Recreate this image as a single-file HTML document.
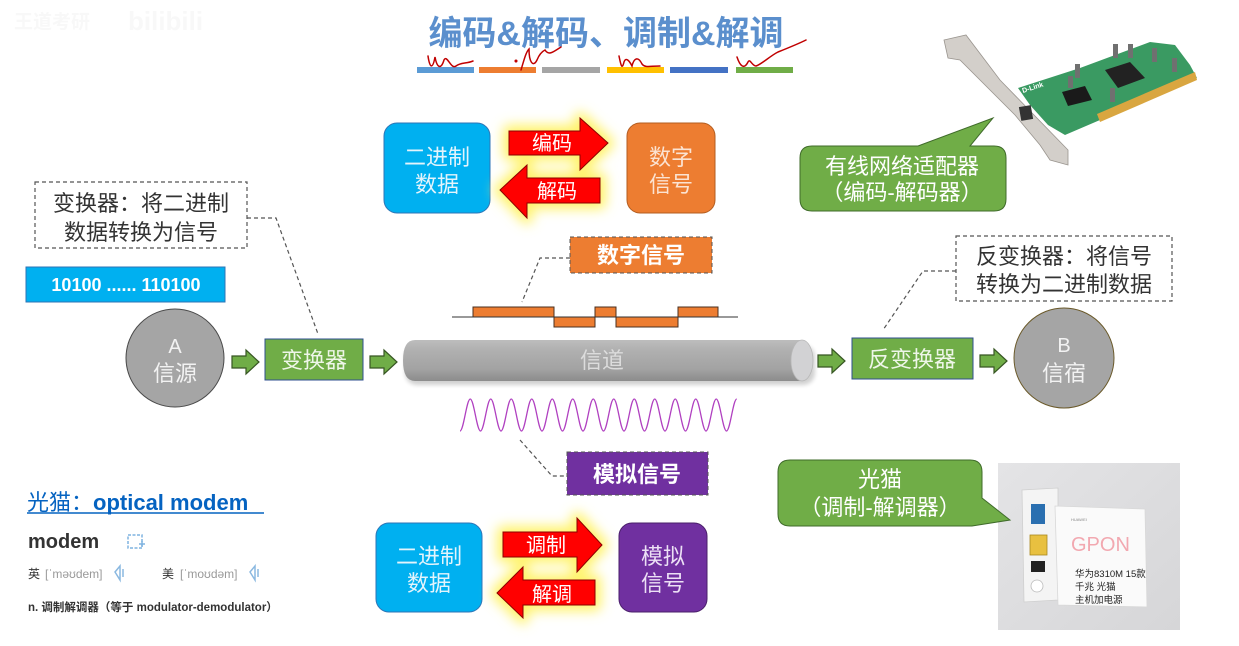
<!DOCTYPE html>
<html><head><meta charset="utf-8">
<style>
html,body{margin:0;padding:0;background:#fff;}
body{width:1239px;height:646px;overflow:hidden;position:relative;}
svg{position:absolute;left:0;top:0;}
text{font-family:"Liberation Sans","Noto Sans CJK SC",sans-serif;}
</style></head>
<body>
<svg width="1239" height="646" viewBox="0 0 1239 646" xmlns="http://www.w3.org/2000/svg">
<defs>
  <filter id="glow" x="-30%" y="-30%" width="160%" height="160%"><feGaussianBlur stdDeviation="6"/></filter>
  <filter id="sh" x="-10%" y="-10%" width="130%" height="140%"><feGaussianBlur stdDeviation="2"/></filter>
  <linearGradient id="cyl" x1="0" y1="0" x2="0" y2="1">
    <stop offset="0" stop-color="#bdbdbd"/>
    <stop offset="0.25" stop-color="#b0b0b0"/>
    <stop offset="0.7" stop-color="#a3a3a3"/>
    <stop offset="1" stop-color="#8c8c8c"/>
  </linearGradient>
  <linearGradient id="photo" x1="0" y1="0" x2="1" y2="1">
    <stop offset="0" stop-color="#e4e4e6"/>
    <stop offset="1" stop-color="#d6d6d8"/>
  </linearGradient>
</defs>

<!-- watermark -->
<text x="14" y="28" font-size="19" fill="#f8f8f8" font-weight="bold">王道考研</text>
<text x="128" y="30" font-size="26" fill="#f8f8f8" font-weight="bold">bilibili</text>

<!-- title -->
<text x="606" y="45" font-size="34" font-weight="bold" fill="#5b8fcd" text-anchor="middle">编码&amp;解码、调制&amp;解调</text>
<rect x="417" y="67" width="57" height="6" fill="#5b9bd5"/>
<rect x="479" y="67" width="57" height="6" fill="#ed7d31"/>
<rect x="542" y="67" width="58" height="6" fill="#a5a5a5"/>
<rect x="607" y="67" width="57" height="6" fill="#ffc000"/>
<rect x="670" y="67" width="58" height="6" fill="#4472c4"/>
<rect x="736" y="67" width="57" height="6" fill="#70ad47"/>
<!-- squiggles -->
<g fill="none" stroke="#c00000" stroke-width="1.5" stroke-linecap="round">
  <path d="M428,56 C430,70 433,68 435,57 C437,68 441,70 444,60 C447,54 451,70 456,66 C461,62 466,64 473,61"/>
  <circle cx="516" cy="61" r="0.8" fill="#c00000"/>
  <path d="M521,70 C524,60 526,52 529,49 C529,62 533,68 537,60 C539,55 541,52 545,50 C549,56 553,52 561,47"/>
  <path d="M619,56 C621,66 622,70 624,62 C626,56 630,62 632,66 C634,58 638,56 642,64 C645,68 650,66 660,66"/>
  <path d="M737,57 C740,66 744,70 748,62 C750,58 752,66 756,66 C762,64 770,56 778,52 C788,48 798,44 806,40"/>
</g>

<!-- top diagram -->
<rect x="384" y="123" width="106" height="90" rx="13" fill="#00b0f0" stroke="#2e75b6" stroke-width="1"/>
<text x="437" y="165" font-size="22" fill="#e3f4fc" text-anchor="middle">二进制</text>
<text x="437" y="192" font-size="22" fill="#e3f4fc" text-anchor="middle">数据</text>
<rect x="627" y="123" width="88" height="90" rx="13" fill="#ed7d31" stroke="#b35d20" stroke-width="1"/>
<text x="671" y="165" font-size="22" fill="#fbe3d2" text-anchor="middle">数字</text>
<text x="671" y="192" font-size="22" fill="#fbe3d2" text-anchor="middle">信号</text>
<g filter="url(#glow)" fill="#fff36a" stroke="#fff36a" stroke-width="12" stroke-linejoin="round">
  <polygon points="509,131 580,131 580,118 608,143 580,170 580,155 509,155"/>
  <polygon points="600,178 527,178 527,165 500,190 527,218 527,203 600,203"/>
</g>
<polygon points="509,131 580,131 580,118 608,143 580,170 580,155 509,155" fill="#ff0000" stroke="#8b0000" stroke-width="1"/>
<polygon points="600,178 527,178 527,165 500,190 527,218 527,203 600,203" fill="#ff0000" stroke="#8b0000" stroke-width="1"/>
<text x="552" y="150" font-size="20" fill="#fff" text-anchor="middle">编码</text>
<text x="557" y="198" font-size="20" fill="#fff" text-anchor="middle">解码</text>

<!-- left dashed note -->
<rect x="35" y="182" width="212" height="66" fill="none" stroke="#555" stroke-width="1.2" stroke-dasharray="4,3"/>
<text x="141" y="211" font-size="22" fill="#333" text-anchor="middle">变换器：将二进制</text>
<text x="141" y="240" font-size="22" fill="#333" text-anchor="middle">数据转换为信号</text>
<polyline points="247,218 276,218 318,334" fill="none" stroke="#555" stroke-width="1.2" stroke-dasharray="4,3"/>

<!-- binary bar -->
<rect x="26" y="267" width="199" height="35" fill="#00b0f0" stroke="#2e75b6" stroke-width="1"/>
<text x="126" y="291" font-size="18" font-weight="bold" fill="#fff" text-anchor="middle">10100 ...... 110100</text>

<!-- source circle -->
<circle cx="175" cy="358" r="49" fill="#a5a5a5" stroke="#4a4a4a" stroke-width="1"/>
<text x="175" y="353" font-size="20" fill="#f2f2f2" text-anchor="middle">A</text>
<text x="175" y="381" font-size="22" fill="#f2f2f2" text-anchor="middle">信源</text>

<!-- green arrows -->
<g fill="#70ad47" stroke="#375623" stroke-width="1.2" stroke-linejoin="miter">
  <polygon points="232,356 246,356 246,350 259,362 246,374 246,368 232,368"/>
  <polygon points="370,356 384,356 384,350 397,362 384,374 384,368 370,368"/>
  <polygon points="818,355 832,355 832,349 845,361 832,373 832,367 818,367"/>
  <polygon points="980,355 994,355 994,349 1007,361 994,373 994,367 980,367"/>
</g>

<rect x="265" y="339" width="98" height="41" fill="#70ad47" stroke="#2f4f8f" stroke-width="1"/>
<text x="314" y="368" font-size="22" fill="#eef6e8" text-anchor="middle">变换器</text>

<!-- channel cylinder -->
<rect x="405" y="345" width="410" height="40" rx="12" fill="#000" opacity="0.18" filter="url(#sh)"/>
<path d="M415,340 H802 V381 H415 Q403,381 403,360.5 Q403,340 415,340 Z" fill="url(#cyl)"/>
<ellipse cx="802" cy="360.5" rx="11" ry="20.5" fill="#d2d2d4" stroke="#b8b8b8" stroke-width="0.8"/>
<text x="602" y="368" font-size="22" fill="#dcdcdc" text-anchor="middle">信道</text>

<rect x="852" y="338" width="121" height="41" fill="#70ad47" stroke="#2f4f8f" stroke-width="1"/>
<text x="912" y="367" font-size="22" fill="#eef6e8" text-anchor="middle">反变换器</text>

<circle cx="1064" cy="358" r="50" fill="#a5a5a5" stroke="#6b5a2a" stroke-width="1"/>
<text x="1064" y="352" font-size="20" fill="#f2f2f2" text-anchor="middle">B</text>
<text x="1064" y="381" font-size="22" fill="#f2f2f2" text-anchor="middle">信宿</text>

<!-- right dashed note -->
<rect x="956" y="236" width="216" height="65" fill="none" stroke="#555" stroke-width="1.2" stroke-dasharray="4,3"/>
<text x="1064" y="264" font-size="22" fill="#333" text-anchor="middle">反变换器：将信号</text>
<text x="1064" y="292" font-size="22" fill="#333" text-anchor="middle">转换为二进制数据</text>
<polyline points="956,271 923,271 883,330" fill="none" stroke="#555" stroke-width="1.2" stroke-dasharray="4,3"/>

<!-- digital signal label -->
<rect x="570" y="237" width="142" height="36" fill="#ed7d31" stroke="#555" stroke-width="1" stroke-dasharray="4,3"/>
<text x="641" y="263" font-size="22" font-weight="bold" fill="#fff" text-anchor="middle">数字信号</text>
<polyline points="570,258 540,258 522,302" fill="none" stroke="#555" stroke-width="1.2" stroke-dasharray="4,3"/>

<!-- digital waveform -->
<g fill="#ed7d31" stroke="#4a3020" stroke-width="1">
  <rect x="473" y="307" width="81" height="10"/>
  <rect x="554" y="317" width="41" height="10"/>
  <rect x="595" y="307" width="21" height="10"/>
  <rect x="616" y="317" width="62" height="10"/>
  <rect x="678" y="307" width="40" height="10"/>
</g>
<line x1="452" y1="317" x2="738" y2="317" stroke="#333" stroke-width="1"/>

<!-- analog wave -->
<path fill="none" stroke="#b040c0" stroke-width="1.3" d="M460,431 C463.7,431 466.55,399 470.25,399 S476.8,431 480.5,431 S487.05,399 490.75,399 S497.3,431 501,431 S507.55,399 511.25,399 S517.8,431 521.5,431 S528.05,399 531.75,399 S538.3,431 542,431 S548.55,399 552.25,399 S558.8,431 562.5,431 S569.05,399 572.75,399 S579.3,431 583,431 S589.55,399 593.25,399 S599.8,431 603.5,431 S610.05,399 613.75,399 S620.3,431 624,431 S630.55,399 634.25,399 S640.8,431 644.5,431 S651.05,399 654.75,399 S661.3,431 665,431 S671.55,399 675.25,399 S681.8,431 685.5,431 S692.05,399 695.75,399 S702.3,431 706,431 S712.55,399 716.25,399 S722.8,431 726.5,431 S733.05,399 736.75,399"/>

<!-- analog label -->
<rect x="567" y="452" width="141" height="43" fill="#7030a0" stroke="#555" stroke-width="1" stroke-dasharray="4,3"/>
<text x="637" y="482" font-size="22" font-weight="bold" fill="#fff" text-anchor="middle">模拟信号</text>
<polyline points="520,440 552,476 567,476" fill="none" stroke="#555" stroke-width="1.2" stroke-dasharray="4,3"/>

<!-- bottom diagram -->
<rect x="376" y="523" width="106" height="89" rx="13" fill="#00b0f0" stroke="#2e75b6" stroke-width="1"/>
<text x="429" y="564" font-size="22" fill="#e3f4fc" text-anchor="middle">二进制</text>
<text x="429" y="591" font-size="22" fill="#e3f4fc" text-anchor="middle">数据</text>
<rect x="619" y="523" width="88" height="89" rx="13" fill="#7030a0" stroke="#4a1f6a" stroke-width="1"/>
<text x="663" y="564" font-size="22" fill="#ece0f5" text-anchor="middle">模拟</text>
<text x="663" y="591" font-size="22" fill="#ece0f5" text-anchor="middle">信号</text>
<g filter="url(#glow)" fill="#fff36a" stroke="#fff36a" stroke-width="12" stroke-linejoin="round">
  <polygon points="503,532 577,532 577,518 602,545 577,572 577,557 503,557"/>
  <polygon points="595,580 523,580 523,567 497,593 523,618 523,605 595,605"/>
</g>
<polygon points="503,532 577,532 577,518 602,545 577,572 577,557 503,557" fill="#ff0000" stroke="#8b0000" stroke-width="1"/>
<polygon points="595,580 523,580 523,567 497,593 523,618 523,605 595,605" fill="#ff0000" stroke="#8b0000" stroke-width="1"/>
<text x="546" y="552" font-size="20" fill="#fff" text-anchor="middle">调制</text>
<text x="552" y="601" font-size="20" fill="#fff" text-anchor="middle">解调</text>

<!-- bottom-left dictionary -->
<text x="27" y="510" font-size="22" fill="#0563c1">光猫：<tspan font-weight="bold">optical modem</tspan></text>
<line x1="27" y1="513" x2="264" y2="513" stroke="#0563c1" stroke-width="1.5"/>
<text x="28" y="548" font-size="20" font-weight="bold" fill="#333">modem</text>
<g fill="none" stroke="#7fb3e0" stroke-width="1.5">
  <rect x="128" y="535" width="14" height="13" stroke-dasharray="3,1.5"/>
  <path d="M139,544 h6 M142,541 v6"/>
</g>
<text x="28" y="578" font-size="12" fill="#333">英</text>
<text x="45" y="578" font-size="12" fill="#999">[ˈməʊdem]</text>
<text x="162" y="578" font-size="12" fill="#333">美</text>
<text x="180" y="578" font-size="12" fill="#999">[ˈmoʊdəm]</text>
<g fill="none" stroke="#8ab8e0" stroke-width="1.5">
  <path d="M115,572 l5,-6 v14 z M123,569 v8"/>
  <path d="M250,572 l5,-6 v14 z M258,569 v8"/>
</g>
<text x="28" y="611" font-size="11.5" font-weight="bold" fill="#333">n. 调制解调器（等于 modulator-demodulator）</text>

<!-- network card picture -->
<polygon points="1018,88 1080,68 1150,42 1175,45 1190,65 1197,78 1100,120 1065,135 1048,125 1030,105" fill="#3a9a62"/>
<polygon points="1097,114 1195,72 1197,80 1100,122" fill="#d9a640"/>
<polygon points="1105,70 1130,62 1145,78 1118,88" fill="#222"/>
<polygon points="1062,92 1085,86 1092,100 1068,106" fill="#1a1a1a"/>
<g fill="#707070">
  <rect x="1113" y="44" width="5" height="14"/><rect x="1128" y="44" width="5" height="14"/>
  <rect x="1152" y="48" width="5" height="14"/><rect x="1172" y="58" width="5" height="14"/>
  <rect x="1075" y="64" width="5" height="14"/><rect x="1110" y="88" width="5" height="14"/>
  <rect x="1068" y="76" width="5" height="12"/>
</g>
<text x="1023" y="93" font-size="7" fill="#fff" font-weight="bold" transform="rotate(-18 1023 93)">D-Link</text>
<polygon points="944,40 966,35 1000,80 1068,150 1068,165 1050,160 1040,145 1015,115 990,90 960,60 948,58" fill="#d3cfca" stroke="#9a958f" stroke-width="0.8"/>
<rect x="1020" y="106" width="12" height="14" fill="#333" transform="rotate(-10 1026 113)"/>

<!-- network callout -->
<path d="M812,146 H918 L993,118 L970,146 H994 Q1006,146 1006,158 V199 Q1006,211 994,211 H812 Q800,211 800,199 V158 Q800,146 812,146 Z" fill="#70ad47" stroke="#3f6b2a" stroke-width="1"/>
<text x="902" y="174" font-size="22" fill="#fff" text-anchor="middle">有线网络适配器</text>
<text x="902" y="200" font-size="22" fill="#fff" text-anchor="middle">（编码-解码器）</text>

<!-- photo of optical modem -->
<rect x="998" y="463" width="182" height="167" fill="url(#photo)"/>
<polygon points="1022,490 1058,488 1058,600 1024,602" fill="#f4f4f4" stroke="#cfcfcf" stroke-width="0.8"/>
<polygon points="1055,506 1145,509 1147,607 1058,605" fill="#fafafa" stroke="#d8d8d8" stroke-width="0.8"/>
<rect x="1031" y="504" width="14" height="20" fill="#2a6fb0"/>
<rect x="1030" y="535" width="17" height="20" fill="#e8c040" stroke="#a88820" stroke-width="0.8"/>
<rect x="1031" y="561" width="14" height="11" fill="#222"/>
<circle cx="1037" cy="586" r="6" fill="#fff" stroke="#bbb" stroke-width="0.8"/>
<text x="1071" y="521" font-size="4" fill="#888">HUAWEI</text>
<text x="1071" y="551" font-size="20" fill="#f2a8b0">GPON</text>
<text x="1075" y="577" font-size="9.5" fill="#222">华为8310M 15款</text>
<text x="1075" y="590" font-size="9.5" fill="#222">千兆 光猫</text>
<text x="1075" y="603" font-size="9.5" fill="#222">主机加电源</text>

<!-- optical modem callout -->
<path d="M790,460 H970 Q982,460 982,472 V498 L1010,520 L972,526 H790 Q778,526 778,514 V472 Q778,460 790,460 Z" fill="#70ad47" stroke="#3f6b2a" stroke-width="1"/>
<text x="880" y="487" font-size="22" fill="#fff" text-anchor="middle">光猫</text>
<text x="880" y="515" font-size="22" fill="#fff" text-anchor="middle">（调制-解调器）</text>
</svg>
</body></html>
